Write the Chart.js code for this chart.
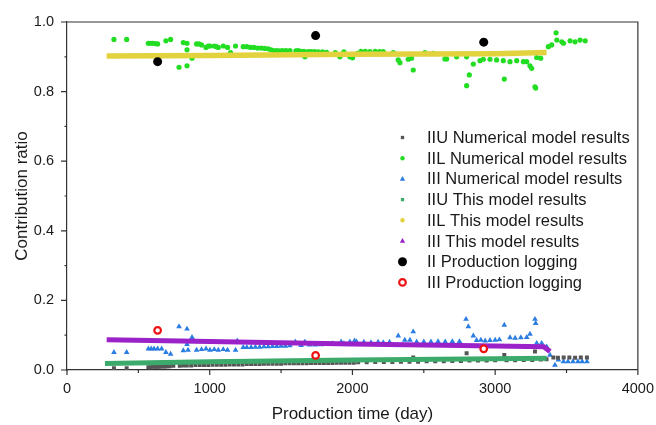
<!DOCTYPE html>
<html>
<head>
<meta charset="utf-8">
<script src="https://cdn.jsdelivr.net/npm/chart.js@4.4.1/dist/chart.umd.min.js"></script>
<style>
  html, body { margin: 0; padding: 0; background: #fff; }
  #wrap { width: 656px; height: 425px; }
</style>
</head>
<body>
<div id="wrap"><canvas id="c"></canvas></div>
<script>
// [day, ratio]
const iiuNumerical = [
  [329,0.005],[418,0.005],[570,0.008],[585,0.008],[600,0.009],[615,0.009],[630,0.009],[645,0.009],[660,0.010],
  [675,0.010],[690,0.010],[705,0.011],[720,0.011],[745,0.012],[790,0.012],[815,0.013],[840,0.013],[870,0.013],
  [900,0.014],[930,0.014],[960,0.014],[990,0.014],[1020,0.015],[1050,0.015],[1080,0.015],[1110,0.015],
  [1140,0.016],[1170,0.016],[1200,0.016],[1230,0.016],[1260,0.017],[1290,0.017],[1320,0.017],[1350,0.017],
  [1380,0.018],[1410,0.018],[1440,0.018],[1470,0.018],[1500,0.018],[1530,0.019],[1560,0.019],[1590,0.019],
  [1620,0.019],[1650,0.019],[1680,0.019],[1710,0.020],[1740,0.020],[1770,0.020],[1800,0.020],[1830,0.020],
  [1860,0.020],[1890,0.021],[1920,0.021],[1950,0.021],[1980,0.021],[2010,0.021],[2040,0.022],[2100,0.022],
  [2160,0.023],[2220,0.023],[2280,0.023],[2340,0.024],[2400,0.024],[2426,0.036],[2460,0.024],[2520,0.025],
  [2580,0.025],[2640,0.025],[2700,0.026],[2760,0.026],[2800,0.048],[2820,0.027],[2880,0.027],[2940,0.027],
  [3000,0.028],[3064,0.043],[3080,0.028],[3140,0.028],[3200,0.029],[3260,0.029],[3279,0.053],[3320,0.030],
  [3360,0.031],[3408,0.036],[3440,0.035],[3480,0.036],[3520,0.036],[3560,0.035],[3600,0.036],[3643,0.036]
];
const iilNumerical = [
  [329,0.950],[418,0.950],[570,0.939],[585,0.939],[600,0.939],[618,0.938],[635,0.937],[693,0.946],[726,0.950],
  [815,0.941],[841,0.939],[841,0.920],[785,0.870],[841,0.874],[876,0.896],[908,0.937],[925,0.937],[943,0.934],
  [974,0.927],[990,0.931],[1002,0.931],[1032,0.931],[1046,0.929],[1060,0.927],[1095,0.931],[1125,0.927],
  [1146,0.912],[1181,0.931],[1235,0.929],[1260,0.929],[1285,0.927],[1310,0.927],[1335,0.925],[1360,0.925],
  [1385,0.924],[1410,0.923],[1430,0.920],[1445,0.918],[1469,0.918],[1490,0.917],[1510,0.918],[1535,0.918],
  [1562,0.918],[1604,0.917],[1620,0.918],[1640,0.916],[1667,0.900],[1660,0.916],[1690,0.915],[1710,0.915],
  [1735,0.915],[1760,0.914],[1790,0.914],[1819,0.913],[1880,0.912],[1912,0.900],[1940,0.914],[2001,0.897],
  [2036,0.910],[1982,0.900],[2060,0.916],[2090,0.916],[2122,0.915],[2160,0.916],[2190,0.915],[2216,0.915],
  [2286,0.912],[2321,0.891],[2333,0.883],[2391,0.893],[2414,0.896],[2426,0.862],[2508,0.912],[2566,0.910],
  [2648,0.894],[2660,0.894],[2730,0.900],[2800,0.900],[2819,0.848],[2800,0.817],[2847,0.879],[2894,0.889],
  [2917,0.893],[2964,0.893],[3010,0.891],[3057,0.889],[3064,0.836],[3104,0.886],[3151,0.889],[3198,0.886],
  [3221,0.886],[3244,0.874],[3256,0.867],[3279,0.814],[3284,0.810],[3291,0.898],[3319,0.896],[3373,0.929],
  [3396,0.934],[3427,0.969],[3432,0.948],[3467,0.943],[3479,0.939],[3525,0.946],[3560,0.943],[3595,0.948],
  [3631,0.946]
];
const iiiNumerical = [
  [329,0.051],[418,0.051],[570,0.061],[590,0.061],[610,0.061],[635,0.061],[663,0.061],[693,0.051],[726,0.046],
  [785,0.125],[841,0.118],[876,0.094],[841,0.074],[815,0.056],[848,0.057],[908,0.057],[943,0.059],[974,0.061],
  [1002,0.057],[1032,0.059],[1060,0.057],[1095,0.059],[1125,0.057],[1181,0.057],[1193,0.084],[1235,0.065],
  [1260,0.065],[1290,0.065],[1320,0.066],[1350,0.066],[1380,0.067],[1410,0.067],[1440,0.068],[1470,0.068],
  [1500,0.069],[1530,0.069],[1562,0.070],[1600,0.081],[1640,0.071],[1667,0.081],[1700,0.072],[1740,0.072],
  [1780,0.073],[1820,0.074],[1860,0.076],[1921,0.081],[1940,0.076],[2015,0.084],[1982,0.081],[2029,0.081],
  [2080,0.080],[2130,0.079],[2180,0.080],[2216,0.079],[2260,0.080],[2321,0.098],[2367,0.086],[2403,0.086],
  [2426,0.110],[2450,0.081],[2500,0.081],[2550,0.081],[2600,0.082],[2650,0.081],[2700,0.082],[2750,0.082],
  [2796,0.146],[2812,0.125],[2847,0.098],[2870,0.085],[2900,0.086],[2930,0.084],[2964,0.085],[3064,0.129],
  [3000,0.086],[3030,0.087],[3104,0.093],[3140,0.092],[3180,0.093],[3221,0.094],[3244,0.103],[3279,0.146],
  [3284,0.134],[3291,0.077],[3326,0.077],[3361,0.067],[3384,0.043],[3419,0.014],[3443,0.029],[3479,0.024],
  [3510,0.024],[3545,0.024],[3580,0.024],[3610,0.024],[3643,0.024]
];
const iiuModel = [[266,0.019],[1000,0.024],[2000,0.029],[3000,0.032],[3361,0.034]];
const iilModel = [[278,0.902],[1000,0.904],[2000,0.907],[3000,0.909],[3360,0.912]];
const iiiModel = [[278,0.087],[1000,0.082],[2000,0.075],[3000,0.069],[3340,0.067],[3385,0.053]];
const iiLogging = [[635,0.886],[1742,0.961],[2920,0.942]];
const iiiLogging = [[635,0.114],[1742,0.042],[2920,0.061]];

const xTicks = [0, 1000, 2000, 3000, 4000];
const yTicks = [0, 0.2, 0.4, 0.6, 0.8, 1.0];

const FONT = "'Liberation Sans', Arial, sans-serif";
const TEXT = '#1a1a1a';
const AXIS = '#333333';

const pts = arr => arr.map(([x, y]) => ({ x, y }));

const datasets = [
  { label: 'IIU Numerical model results', data: pts(iiuNumerical), pointStyle: 'rect',
    pointRadius: 2.8, backgroundColor: '#555555', borderColor: '#555555', borderWidth: 0, order: 3 },
  { label: 'IIL Numerical model results', data: pts(iilNumerical), pointStyle: 'circle',
    pointRadius: 2.6, backgroundColor: '#22dd22', borderColor: '#22dd22', borderWidth: 0, order: 3 },
  { label: 'III Numerical model results', data: pts(iiiNumerical), pointStyle: 'triangle',
    pointRadius: 3.3, backgroundColor: '#2a7de1', borderColor: '#2a7de1', borderWidth: 0, order: 3 },
  { label: 'IIU This model results', data: pts(iiuModel), showLine: true, pointRadius: 0,
    borderColor: '#3caa6a', backgroundColor: '#3caa6a', borderWidth: 5, legendStyle: 'rect', order: 2 },
  { label: 'IIL This model results', data: pts(iilModel), showLine: true, pointRadius: 0,
    borderColor: '#e2d23e', backgroundColor: '#e2d23e', borderWidth: 5.5, legendStyle: 'circle', order: 2 },
  { label: 'III This model results', data: pts(iiiModel), showLine: true, pointRadius: 0,
    borderColor: '#9b22c8', backgroundColor: '#9b22c8', borderWidth: 5, legendStyle: 'triangle', order: 2 },
  { label: 'II Production logging', data: pts(iiLogging), pointStyle: 'circle',
    pointRadius: 4.5, backgroundColor: '#000000', borderColor: '#000000', borderWidth: 0, order: 1 },
  { label: 'III Production logging', data: pts(iiiLogging), pointStyle: 'circle',
    pointRadius: 3.3, backgroundColor: '#ffffff', borderColor: '#ee1111', borderWidth: 2.2, order: 0 },
]

function shape(ctx, style, x, y, r) {
  ctx.beginPath()
  if (style === 'rect') {
    ctx.rect(x - r * 0.75, y - r * 0.75, r * 1.5, r * 1.5)
  } else if (style === 'triangle') {
    ctx.moveTo(x, y - r)
    ctx.lineTo(x + r * 0.9, y + r * 0.6)
    ctx.lineTo(x - r * 0.9, y + r * 0.6)
    ctx.closePath()
  } else {
    ctx.arc(x, y, r, 0, Math.PI * 2)
  }
}

const frame = {
  id: 'frame',
  afterDraw(chart) {
    const { ctx, chartArea: a, scales: { x, y } } = chart
    ctx.save()
    ctx.strokeStyle = AXIS
    ctx.lineWidth = 1.2
    ctx.beginPath()
    ctx.moveTo(a.left, a.top); ctx.lineTo(a.right, a.top); ctx.lineTo(a.right, a.bottom)
    ctx.stroke()
    // x ticks, major and minor
    ctx.beginPath()
    for (let v = 0; v <= 4000; v += 500) {
      const px = x.getPixelForValue(v)
      ctx.moveTo(px, a.bottom); ctx.lineTo(px, a.bottom + (v % 1000 === 0 ? 5 : 3))
    }
    for (let i = 0; i <= 10; i++) {
      const py = y.getPixelForValue(i / 10)
      ctx.moveTo(a.left, py); ctx.lineTo(a.left - (i % 2 === 0 ? 6 : 2.5), py)
    }
    ctx.stroke()

    // legend
    ctx.font = '16.5px ' + FONT
    ctx.textBaseline = 'middle'
    ctx.fillStyle = TEXT
    chart.data.datasets.forEach((d, i) => {
      const ly = 137.5 + i * 20.7
      const lx = 402.5
      const style = d.legendStyle || d.pointStyle
      let r = 2.2
      if (i === 6) r = 4.5
      if (i === 7) r = 3.3
      if (style === 'triangle') r = 3
      shape(ctx, style, lx, ly, r)
      if (i === 7) {
        ctx.fillStyle = '#fff'; ctx.fill()
        ctx.lineWidth = 2.2; ctx.strokeStyle = d.borderColor; ctx.stroke()
      } else {
        ctx.fillStyle = d.backgroundColor; ctx.fill()
      }
      ctx.fillStyle = TEXT
      ctx.fillText(d.label, 427, ly + 1)
    })
    ctx.restore()
  }
}

new Chart(document.getElementById('c'), {
  type: 'scatter',
  data: { datasets },
  options: {
    responsive: true,
    maintainAspectRatio: false,
    animation: false,
    layout: { padding: { left: 0, top: 22, right: 18, bottom: 0 } },
    plugins: { legend: { display: false }, tooltip: { enabled: false } },
    scales: {
      x: {
        type: 'linear', min: 0, max: 4000,
        afterBuildTicks: s => { s.ticks = xTicks.map(v => ({ value: v })) },
        afterFit: s => { s.height = 55 },
        grid: { display: false },
        border: { display: true, color: AXIS, width: 1.2 },
        ticks: { padding: 2, color: TEXT, font: { family: FONT, size: 14.5 }, maxRotation: 0,
                 callback: v => String(v) },
        title: { display: true, text: 'Production time (day)', color: TEXT,
                 font: { family: FONT, size: 17 }, padding: { top: 0, bottom: 0 } },
      },
      y: {
        type: 'linear', min: 0, max: 1,
        afterBuildTicks: s => { s.ticks = yTicks.map(v => ({ value: v })) },
        afterFit: s => { s.width = 67 },
        grid: { display: false },
        border: { display: true, color: AXIS, width: 1.2 },
        ticks: { padding: 5, color: TEXT, font: { family: FONT, size: 14.5 },
                 callback: v => v.toFixed(1) },
        title: { display: true, text: 'Contribution ratio', color: TEXT,
                 font: { family: FONT, size: 17 }, padding: { top: 12, bottom: 0 } },
      },
    },
  },
  plugins: [frame],
})
</script>
</body>
</html>
